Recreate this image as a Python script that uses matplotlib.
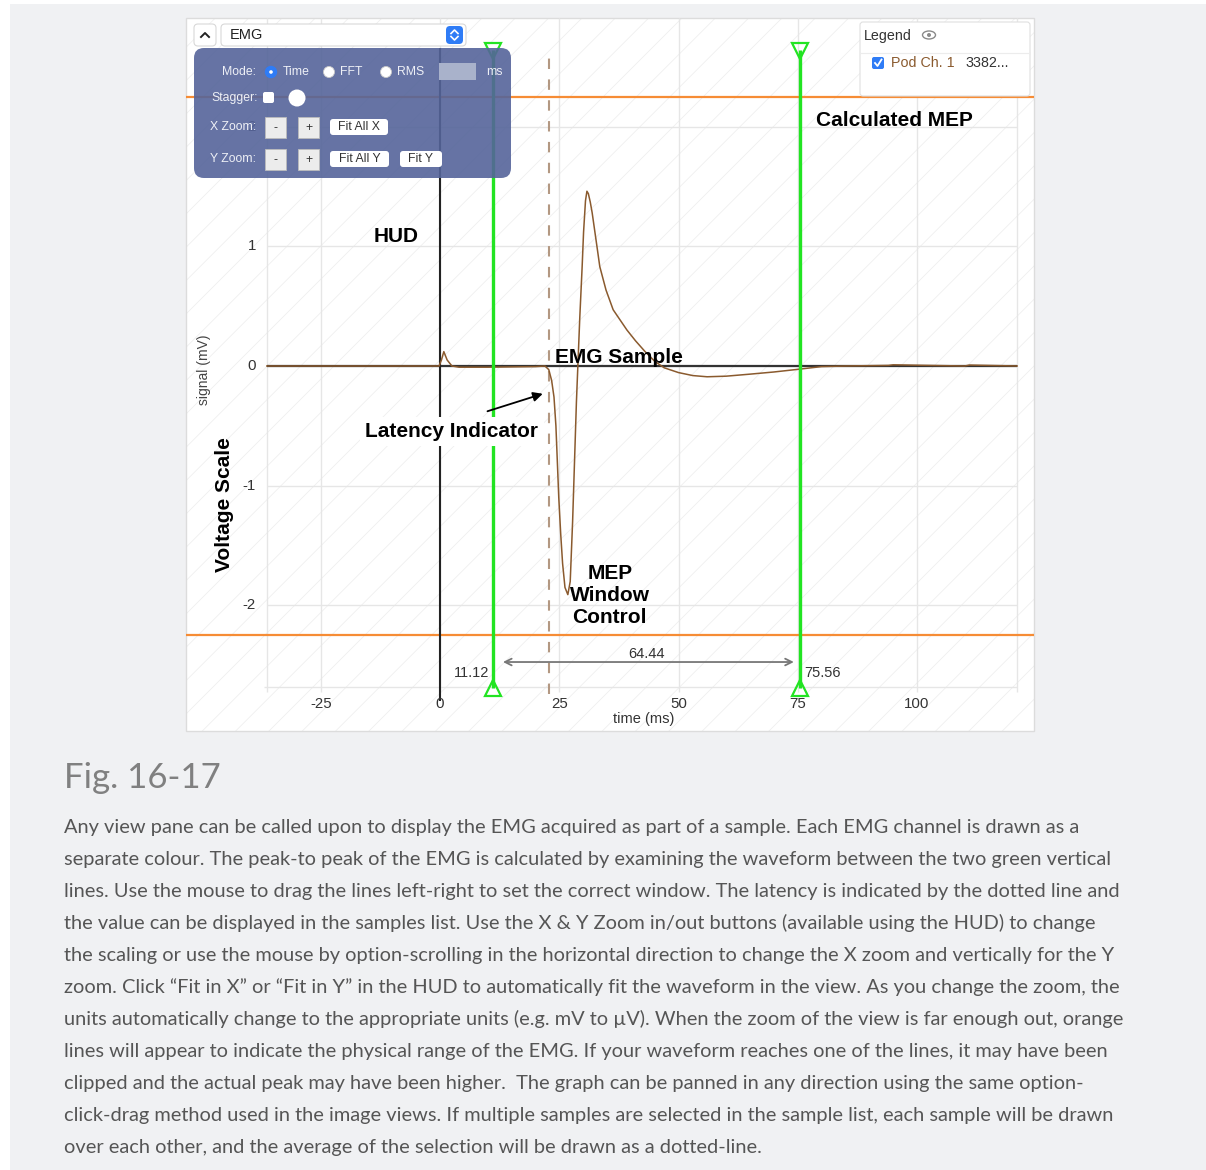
import matplotlib
matplotlib.use("Agg")
import matplotlib.pyplot as plt
from matplotlib.patches import Rectangle, FancyBboxPatch, Circle, Ellipse

# EMG trace (time in ms, signal in mV)
time_ms = [-36.3, -10.0, -1.0, -0.2, 0.3, 0.8, 1.5, 2.5, 4.0, 10.0, 20.0, 22.0,
           22.8, 23.4, 23.9, 24.3, 24.6, 24.9, 25.3, 25.7, 26.2, 26.8, 27.3,
           27.8, 28.2, 28.6, 29.0, 29.3, 29.8, 30.1, 30.5, 30.8, 31.1, 31.5,
           31.9, 32.9, 33.5, 34.8, 36.3, 39.2, 41.0, 43.0, 45.0, 47.0, 50.0,
           53.0, 56.0, 60.0, 65.0, 70.0, 75.0, 80.0, 85.0, 94.0, 95.0, 110.0,
           111.0, 121.0]
signal_mv = [0.0, 0.0, 0.0, 0.0, 0.05, 0.12, 0.05, 0.0, -0.01, -0.01, -0.005, 0.0,
             -0.03, -0.12, -0.26, -0.5, -0.8, -1.1, -1.4, -1.65, -1.85, -1.91, -1.80,
             -1.3, -0.8, -0.3, 0.1, 0.4, 0.83, 1.12, 1.38, 1.46, 1.44, 1.37,
             1.28, 1.0, 0.83, 0.635, 0.47, 0.30, 0.21, 0.12, 0.04, -0.015, -0.055,
             -0.08, -0.09, -0.085, -0.068, -0.05, -0.028, -0.005, 0.0, 0.005, 0.01, 0.0,
             0.008, 0.0]

x_ticks = [-25, 0, 25, 50, 75, 100]
y_ticks = [2, 1, 0, -1, -2]
x_range = [-36.3, 121.0]
y_bottom = -2.68
orange_limits = [2.25, -2.25]
latency_ms = 22.9
window_start = 11.12
window_end = 75.56

caption = "Fig. 16-17"
paragraph = [
    "Any view pane can be called upon to display the EMG acquired as part of a sample. Each EMG channel is drawn as a",
    "separate colour. The peak-to peak of the EMG is calculated by examining the waveform between the two green vertical",
    "lines. Use the mouse to drag the lines left-right to set the correct window. The latency is indicated by the dotted line and",
    "the value can be displayed in the samples list. Use the X & Y Zoom in/out buttons (available using the HUD) to change",
    "the scaling or use the mouse by option-scrolling in the horizontal direction to change the X zoom and vertically for the Y",
    "zoom. Click \u201cFit in X\u201d or \u201cFit in Y\u201d in the HUD to automatically fit the waveform in the view. As you change the zoom, the",
    "units automatically change to the appropriate units (e.g. mV to \u00b5V). When the zoom of the view is far enough out, orange",
    "lines will appear to indicate the physical range of the EMG. If your waveform reaches one of the lines, it may have been",
    "clipped and the actual peak may have been higher.  The graph can be panned in any direction using the same option-",
    "click-drag method used in the image views. If multiple samples are selected in the sample list, each sample will be drawn",
    "over each other, and the average of the selection will be drawn as a dotted-line.",
]

W, H = 1206, 1170
SANS = "Liberation Sans"
TRACE = "#8a5a2e"
GREEN = "#22e422"
ORANGE = "#f68c35"

fig = plt.figure(figsize=(W / 100, H / 100), dpi=100, facecolor="#f0f1f3")

# page layer in pixel coordinates
bg = fig.add_axes([0, 0, 1, 1], zorder=0)
bg.set_xlim(0, W)
bg.set_ylim(H, 0)
bg.axis("off")
bg.add_patch(Rectangle((0, 0), 10, H, facecolor="white", lw=0))
bg.add_patch(Rectangle((0, 0), W, 4, facecolor="white", lw=0))
bg.add_patch(Rectangle((186, 18), 848, 713, facecolor="white", lw=0))
plt.rcParams["hatch.linewidth"] = 0.6
bg.add_patch(Rectangle((186, 18), 848, 713, facecolor="none", edgecolor="#efefef",
                       hatch="/", lw=0))
bg.add_patch(Rectangle((186, 18), 848, 713, facecolor="none", edgecolor="#dcdcdc", lw=1))

bg.text(64, 778, caption, fontsize=25, color="#808080", family="Lato",
        va="center", ha="left")
for i, line in enumerate(paragraph):
    bg.text(64, 827 + 32 * i, line, fontsize=14.45, color="#555555", family="Lato",
            va="center", ha="left")

# chart axes mapped onto the panel
ax = fig.add_axes([186 / W, (H - 731) / H, 848 / W, 713 / H], zorder=2)
ax.patch.set_visible(False)
px_per_ms, px_per_mv = 4.77, 119.7
ax.set_xlim((186 - 440) / px_per_ms, (1034 - 440) / px_per_ms)
ax.set_ylim((366 - 731) / px_per_mv, (366 - 18) / px_per_mv)
ax.axis("off")

y_top = ax.get_ylim()[1]
ax.vlines(x_ticks + x_range, y_bottom - 0.04, y_top, color="#e6e6e6", lw=1, zorder=0.5)
ax.hlines(y_ticks, x_range[0], x_range[1], color="#e6e6e6", lw=1, zorder=0.5)
ax.hlines(y_bottom, x_range[0] - 0.6, x_range[1], color="#e6e6e6", lw=1, zorder=0.5)

for t in x_ticks:
    ax.text(t, -2.825, str(t), ha="center", va="center", fontsize=10.8,
            color="#333333", family=SANS)
for v in y_ticks:
    ax.text(-38.6, v, str(v), ha="right", va="center", fontsize=10.8,
            color="#333333", family=SANS)
ax.text(42.8, -2.95, "time (ms)", ha="center", va="center", fontsize=10.5,
        color="#333333", family=SANS)
ax.text(-49.5, -0.03, "signal (mV)", ha="center", va="center", rotation=90,
        fontsize=10, color="#444444", family=SANS)

ax.axhline(orange_limits[0], color=ORANGE, lw=1.6, zorder=2)
ax.axhline(orange_limits[1], color=ORANGE, lw=1.6, zorder=2)
ax.hlines(0, x_range[0], x_range[1], color="#333333", lw=1.6, zorder=2)
ax.vlines(0, -2.80, 2.66, color="#222222", lw=1.5, zorder=2)
ax.vlines(latency_ms, -2.74, 2.58, color="#b39882", lw=1.5,
          linestyles=(0, (5, 5)), zorder=2.5)

ax.plot(time_ms, signal_mv, color=TRACE, lw=1.1, zorder=3)

for xw in (window_start, window_end):
    ax.vlines(xw, -2.69, 2.64, color=GREEN, lw=2.4, zorder=4)
    ax.plot(xw, 2.63, marker="v", ms=11, mfc="none", mec=GREEN, mew=1.6, zorder=4)
    ax.plot(xw, -2.69, marker="^", ms=11, mfc="none", mec=GREEN, mew=1.6, zorder=4)

ax.annotate("", xy=(window_end - 0.8, -2.473), xytext=(window_start + 1.5, -2.473),
            arrowprops=dict(arrowstyle="<->", color="#777777", lw=1.3,
                            mutation_scale=12), zorder=4)
ax.text((window_start + window_end) / 2, -2.406, f"{window_end - window_start:.2f}",
        ha="center", va="center", fontsize=10.5, color="#333333", family=SANS)
ax.text(window_start - 0.8, -2.565, f"{window_start:.2f}", ha="right", va="center",
        fontsize=10.5, color="#333333", family=SANS)
ax.text(window_end + 0.8, -2.565, f"{window_end:.2f}", ha="left", va="center",
        fontsize=10.5, color="#333333", family=SANS)

bold = dict(fontsize=15, fontweight="bold", color="black", family=SANS, zorder=6)
ax.text(-9.2, 1.08, "HUD", ha="center", va="center", **bold)
ax.text(95.3, 2.05, "Calculated MEP", ha="center", va="center", **bold)
ax.text(37.6, 0.07, "EMG Sample", ha="center", va="center", **bold)
ax.text(35.6, -1.92, "MEP\nWindow\nControl", ha="center", va="center",
        linespacing=1.2, **bold)
ax.text(-45.2, -1.16, "Voltage Scale", ha="center", va="center", rotation=90, **bold)
ax.text(2.5, -0.545, "Latency Indicator", ha="center", va="center",
        bbox=dict(boxstyle="square,pad=0.25", fc="white", ec="none"), **bold)
ax.annotate("", xy=(22.1, -0.225), xytext=(9.4, -0.385),
            arrowprops=dict(arrowstyle="-|>", color="black", lw=1.3,
                            mutation_scale=14), zorder=6)

# HUD, selector and legend in pixel coordinates on top
top = fig.add_axes([0, 0, 1, 1], zorder=3)
top.set_xlim(0, W)
top.set_ylim(H, 0)
top.axis("off")
top.patch.set_visible(False)

top.add_patch(FancyBboxPatch((194, 24), 22, 22, boxstyle="round,pad=0,rounding_size=4",
                             fc="white", ec="#d8d8d8", lw=0.8))
top.plot([201, 205, 209], [37, 33, 37], color="#222222", lw=1.4)
top.add_patch(FancyBboxPatch((221, 24), 245, 22, boxstyle="round,pad=0,rounding_size=4",
                             fc="white", ec="#d8d8d8", lw=0.8))
top.text(230, 35, "EMG", ha="left", va="center", fontsize=10.5, family=SANS,
         color="#222222")
top.add_patch(FancyBboxPatch((446, 26), 17, 18, boxstyle="round,pad=0,rounding_size=4",
                             fc="#2f7cf6", ec="none"))
top.plot([451, 454.5, 458], [33.5, 30, 33.5], color="white", lw=1.2)
top.plot([451, 454.5, 458], [36.5, 40, 36.5], color="white", lw=1.2)

top.add_patch(FancyBboxPatch((194, 48), 317, 130, boxstyle="round,pad=0,rounding_size=10",
                             fc="#55649a", ec="none", alpha=0.9))
hud = dict(fontsize=8.8, color="#eef0f6", family=SANS, va="center")
top.text(256, 72, "Mode:", ha="right", **hud)
top.add_patch(Circle((271, 72), 5.5, fc="#2f7cf6", ec="#2f7cf6"))
top.add_patch(Circle((271, 72), 1.8, fc="white", ec="none"))
top.text(283, 72, "Time", ha="left", **hud)
top.add_patch(Circle((329, 72), 5.5, fc="white", ec="#c8c8c8", lw=0.6))
top.text(340, 72, "FFT", ha="left", **hud)
top.add_patch(Circle((386, 72), 5.5, fc="white", ec="#c8c8c8", lw=0.6))
top.text(397, 72, "RMS", ha="left", **hud)
top.add_patch(Rectangle((439, 63), 37, 17, fc="#a9b2cb", ec="none"))
top.text(486, 72, "ms", ha="left", **hud)
top.text(258, 98, "Stagger:", ha="right", **hud)
top.add_patch(FancyBboxPatch((263, 92), 11, 11, boxstyle="round,pad=0,rounding_size=2",
                             fc="white", ec="none"))
top.add_patch(Circle((297, 98), 8.5, fc="white", ec="none"))

btn = dict(fontsize=8.8, color="#333333", family=SANS, va="center", ha="center")
for row_y, label in ((127, "X Zoom:"), (159, "Y Zoom:")):
    top.text(256, row_y, label, ha="right", **hud)
    for bx, sym in ((265, "-"), (298, "+")):
        top.add_patch(Rectangle((bx, row_y - 10), 21, 21, fc="#ececec", ec="#bcbcbc", lw=0.6))
        top.text(bx + 10.5, row_y + 1, sym, **btn)
for bx, by, bw, label in ((330, 119, 58, "Fit All X"), (330, 151, 59, "Fit All Y"),
                          (400, 151, 42, "Fit Y")):
    top.add_patch(FancyBboxPatch((bx, by), bw, 16, boxstyle="round,pad=0,rounding_size=3",
                                 fc="white", ec="none"))
    top.text(bx + bw / 2, by + 8, label, **btn)

top.add_patch(FancyBboxPatch((860, 22), 170, 74, boxstyle="round,pad=0,rounding_size=3",
                             fc="white", ec="#e0e0e0", lw=0.8))
top.plot([861, 1029], [53, 53], color="#ececec", lw=0.8)
top.text(864, 36, "Legend", ha="left", va="center", fontsize=10.3, family=SANS,
         color="#333333")
top.add_patch(Ellipse((929, 35), 13, 8, fc="none", ec="#8a8a8a", lw=1))
top.add_patch(Circle((929, 35), 2, fc="#8a8a8a", ec="none"))
top.add_patch(FancyBboxPatch((872, 57), 12, 12, boxstyle="round,pad=0,rounding_size=2",
                             fc="#2f7cf6", ec="none"))
top.plot([875, 877.5, 881.5], [63, 66, 59.5], color="white", lw=1.3)
top.text(891, 63, "Pod Ch. 1", ha="left", va="center", fontsize=10.3, family=SANS,
         color=TRACE)
top.text(965, 63, "3382...", ha="left", va="center", fontsize=10.3, family=SANS,
         color="#333333")

fig.savefig("out.png", dpi=100, facecolor=fig.get_facecolor())
